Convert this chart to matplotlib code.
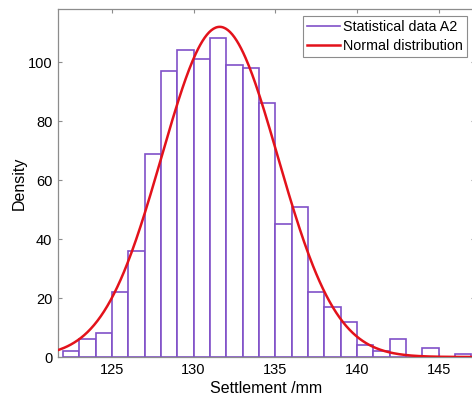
import numpy as np
import matplotlib
matplotlib.use("Agg")
import matplotlib.pyplot as plt
from matplotlib.lines import Line2D

plt.rcParams["font.family"] = ["Liberation Sans", "DejaVu Sans"]

# histogram of settlement values (bin width 1 mm)
bin_edges = list(range(122, 148))
counts = [2, 6, 8, 22, 36, 69, 97, 104, 101, 108, 99, 98, 86,
          45, 51, 22, 17, 12, 4, 2, 6, 0, 3, 0, 1]

# fitted normal distribution
mu = 131.6
sigma = 3.56
n_samples = sum(counts)

x_ticks = [125, 130, 135, 140, 145]
y_ticks = [0, 20, 40, 60, 80, 100]

purple = "#8050c8"
red = "#e3121b"
gray = "#8c8c8c"

fig = plt.figure(figsize=(4.72, 3.95), dpi=100)
ax = fig.add_axes([0.1229, 0.0962, 0.8824, 0.881])

lefts = bin_edges[:-1]
ax.bar(lefts, counts, width=1, align="edge", facecolor="white",
       edgecolor=purple, linewidth=1.2, zorder=2)

xs = np.linspace(121, 148, 400)
pdf = n_samples / (sigma * np.sqrt(2 * np.pi)) * np.exp(-0.5 * ((xs - mu) / sigma) ** 2)
ax.plot(xs, pdf, color=red, linewidth=1.8, zorder=3)

ax.set_xlim(121.7, 147.2)
ax.set_ylim(0, 118)
ax.set_xticks(x_ticks)
ax.set_yticks(y_ticks)
ax.tick_params(direction="in", top=True, right=True, labelsize=10.5,
               color=gray, length=3, width=0.8, pad=4)
for s in ax.spines.values():
    s.set_color(gray)
    s.set_linewidth(0.9)

ax.set_xlabel("Settlement /mm", fontsize=11.5, labelpad=3)
ax.set_ylabel("Density", fontsize=11.5, labelpad=1)

# legend: bar handle shown as a line, like the original
handles = [Line2D([], [], color=purple, linewidth=1.2),
           Line2D([], [], color=red, linewidth=1.8)]
leg = ax.legend(handles, ["Statistical data A2", "Normal distribution"],
                loc="upper right", bbox_to_anchor=(0.982, 0.980), fontsize=10.3,
                fancybox=False, framealpha=1, edgecolor=gray,
                handlelength=2.3, handletextpad=0.2, borderpad=0.3,
                labelspacing=0.3, borderaxespad=0)
leg.get_frame().set_linewidth(0.8)

fig.savefig("out.png", dpi=100)
